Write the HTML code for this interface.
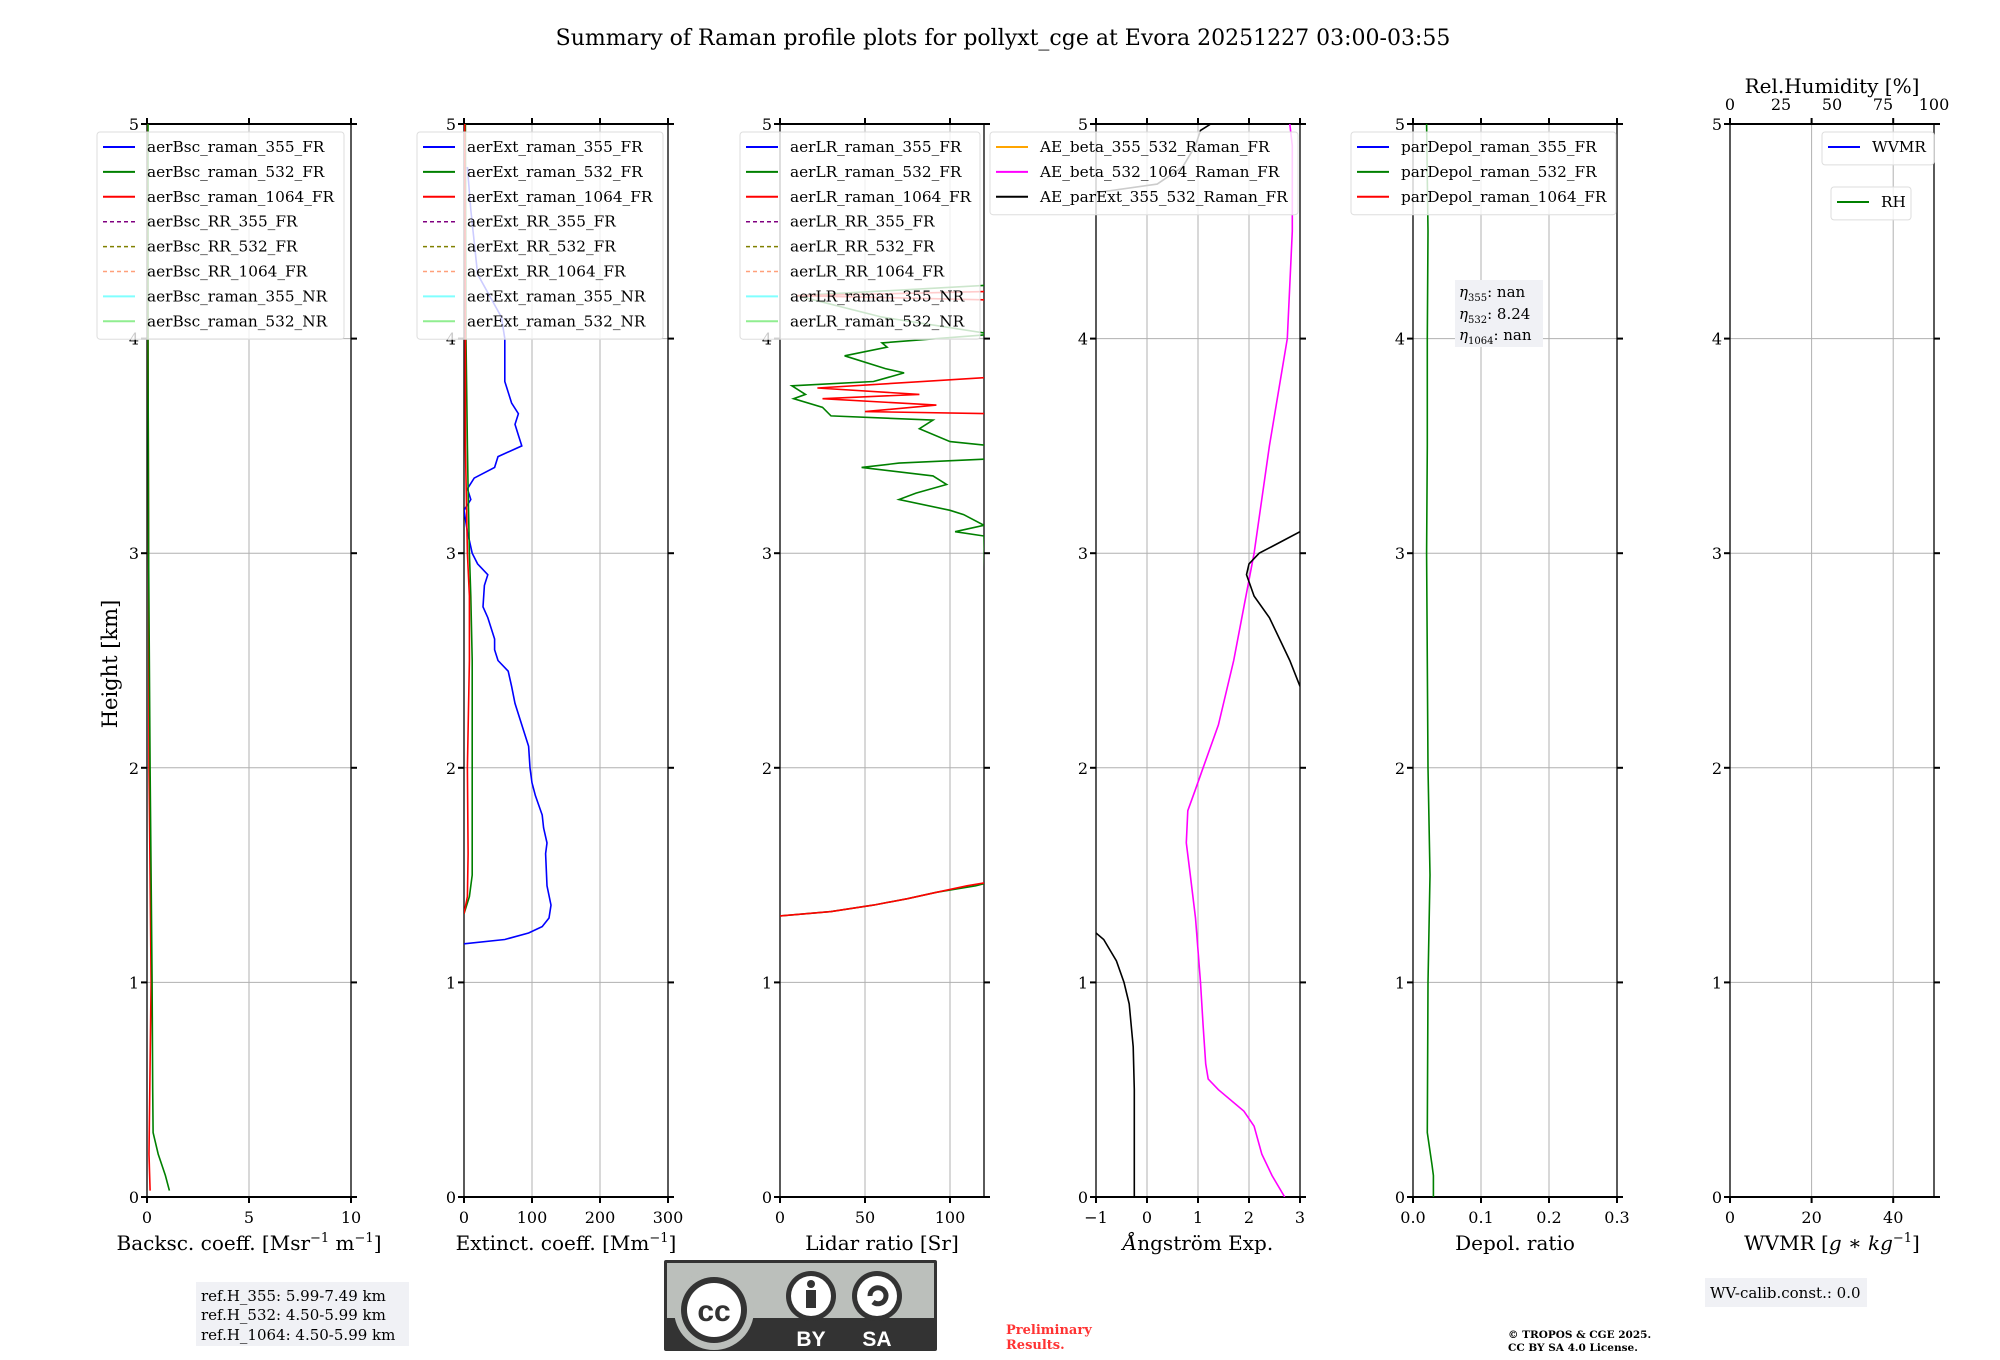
<!DOCTYPE html>
<html><head><meta charset="utf-8">
<style>
html,body{margin:0;padding:0;background:#fff;}
svg{display:block;font-family:"DejaVu Serif","Liberation Serif",serif;}
</style></head>
<body>
<svg id="fig" width="2000" height="1360" viewBox="0 0 2000 1360" xmlns="http://www.w3.org/2000/svg">
<text x="1003" y="45" font-size="22" text-anchor="middle">Summary of Raman profile plots for pollyxt_cge at Evora 20251227 03:00-03:55</text>
<text transform="translate(117,664) rotate(-90)" font-size="21" text-anchor="middle">Height [km]</text>
<g id="panels"></g>
<g>
<rect x="196" y="1282" width="213" height="64" fill="#f0f1f5"/>
<text x="201" y="1301" font-size="15">ref.H_355: 5.99-7.49 km</text>
<text x="201" y="1320" font-size="15">ref.H_532: 4.50-5.99 km</text>
<text x="201" y="1340" font-size="15">ref.H_1064: 4.50-5.99 km</text>
</g>
<g>
<rect x="1455" y="280" width="88" height="67" fill="#f0f1f5"/>
<text x="1459" y="297" font-size="15"><tspan font-style="italic">η</tspan><tspan font-size="10" dy="4">355</tspan><tspan dy="-4">: nan</tspan></text>
<text x="1459" y="319" font-size="15"><tspan font-style="italic">η</tspan><tspan font-size="10" dy="4">532</tspan><tspan dy="-4">: 8.24</tspan></text>
<text x="1459" y="340" font-size="15"><tspan font-style="italic">η</tspan><tspan font-size="10" dy="4">1064</tspan><tspan dy="-4">: nan</tspan></text>
</g>
<g>
<rect x="1705" y="1278" width="162" height="29" fill="#f0f1f5"/>
<text x="1710" y="1298" font-size="15">WV-calib.const.: 0.0</text>
</g>
<g>
<rect x="664" y="1260" width="273" height="91" fill="#333" rx="2"/>
<rect x="667" y="1263" width="267" height="55" fill="#bbbfbb"/>
<circle cx="714" cy="1310" r="40" fill="#bbbfbb"/>
<circle cx="714" cy="1310" r="33" fill="#333"/>
<circle cx="714" cy="1310" r="27" fill="#fff"/>
<text x="714" y="1321" font-family="Liberation Sans, sans-serif" font-weight="bold" font-size="30" text-anchor="middle" fill="#333">cc</text>
<circle cx="811" cy="1296" r="25" fill="#333"/><circle cx="811" cy="1296" r="20" fill="#fff"/>
<circle cx="811" cy="1284" r="4" fill="#333"/><rect x="806" y="1290" width="10" height="18" fill="#333"/>
<circle cx="877" cy="1296" r="25" fill="#333"/><circle cx="877" cy="1296" r="20" fill="#fff"/>
<path d="M870,1296 a8,8 0 1 1 3,6" fill="none" stroke="#333" stroke-width="5"/>
<text x="811" y="1346" font-family="Liberation Sans, sans-serif" font-weight="bold" font-size="21" text-anchor="middle" fill="#fff">BY</text>
<text x="877" y="1346" font-family="Liberation Sans, sans-serif" font-weight="bold" font-size="21" text-anchor="middle" fill="#fff">SA</text>
</g>
<text x="1006" y="1334" font-size="13" font-weight="bold" fill="#ff3333">Preliminary</text>
<text x="1006" y="1349" font-size="13" font-weight="bold" fill="#ff3333">Results.</text>
<text x="1508" y="1338" font-size="10.5" font-weight="bold">© TROPOS &amp; CGE 2025.</text>
<text x="1508" y="1351" font-size="10.5" font-weight="bold">CC BY SA 4.0 License.</text>
</svg>
<script>
// ---- data ----
const heightTicks = [0,1,2,3,4,5];
const bscTicks = [0,5,10];
const extTicks = [0,100,200,300];
const lrTicks = [0,50,100];
const aeTicks = [-1,0,1,2,3];
const depTicks = [0.0,0.1,0.2,0.3];
const wvTicks = [0,20,40];
const rhTicks = [0,25,50,75,100];

const bsc532H = [0.03,0.1,0.2,0.3,0.5,1,2,3,4,5];
const bsc532V = [1.1,0.9,0.55,0.3,0.28,0.25,0.15,0.08,0.05,0.05];
const bsc1064H = [0.03,0.2,1,1.5,2,3,4,5];
const bsc1064V = [0.15,0.1,0.2,0.15,0.1,0.08,0.05,0.03];

const ext355H = [1.18,1.2,1.23,1.26,1.3,1.36,1.45,1.6,1.65,1.72,1.78,1.87,1.93,2.0,2.1,2.2,2.3,2.38,2.45,2.5,2.55,2.6,2.7,2.75,2.85,2.9,2.95,3.0,3.1,3.2,3.25,3.3,3.35,3.4,3.45,3.5,3.55,3.6,3.65,3.7,3.8,3.9,4.0,4.1,4.3,4.6,4.8];
const ext355V = [0,60,95,115,125,128,122,120,122,117,115,105,100,97,95,85,75,70,65,50,45,45,35,28,30,35,20,12,5,0,10,5,15,45,50,85,80,75,80,70,60,60,60,55,20,10,5];
const ext532H = [1.32,1.4,1.5,1.7,2.0,2.5,2.8,3.0,3.3,3.5,4,5];
const ext532V = [0,8,12,12,12,12,10,8,6,5,3,2];
const ext1064H = [1.32,1.4,1.6,2,2.5,2.8,3,3.5,4,5];
const ext1064V = [0,5,6,5,8,8,5,2,2,1];

const lr532H = [1.31,1.33,1.36,1.39,1.42,1.45,1.47,3.08,3.1,3.13,3.18,3.2,3.25,3.28,3.32,3.36,3.4,3.42,3.44,3.5,3.52,3.58,3.62,3.64,3.68,3.72,3.74,3.78,3.8,3.84,3.86,3.92,3.96,3.98,4.02,4.1,4.2,4.25];
const lr532V = [0,30,55,75,92,115,125,120,103,120,108,100,70,80,98,90,48,70,125,125,100,82,90,30,25,8,15,7,55,73,62,38,63,60,125,60,10,125];
const lr1064H = [1.31,1.33,1.36,1.39,1.42,1.45,1.47,3.65,3.66,3.69,3.72,3.74,3.77,3.82,4.18,4.2,4.22];
const lr1064V = [0,30,55,75,92,110,125,125,50,92,25,82,22,125,125,10,125];

const aeBetaH = [0,0.1,0.2,0.33,0.4,0.5,0.55,0.62,0.8,1.0,1.3,1.5,1.65,1.8,1.9,2.0,2.2,2.5,3.0,3.5,4.0,4.5,4.9,5];
const aeBetaV = [2.7,2.45,2.25,2.1,1.9,1.4,1.2,1.15,1.1,1.05,0.95,0.85,0.77,0.8,0.95,1.1,1.4,1.7,2.1,2.4,2.75,2.85,2.85,2.8];
const aeExtLowH = [0,0.5,0.7,0.9,1.0,1.1,1.2,1.23];
const aeExtLowV = [-0.25,-0.25,-0.27,-0.35,-0.45,-0.6,-0.85,-1];
const aeExtHighH = [2.38,2.5,2.7,2.8,2.9,2.95,3.0,3.05,3.1];
const aeExtHighV = [3,2.8,2.4,2.1,1.95,2.0,2.2,2.6,3];
const aeExtTopH = [4.68,4.72,4.8,4.9,4.97,5];
const aeExtTopV = [-1,0.2,0.7,0.95,1.05,1.25];

const dep532H = [0,0.1,0.15,0.3,1,1.5,2,2.5,3,3.5,4,4.5,5];
const dep532V = [0.03,0.03,0.028,0.021,0.022,0.025,0.022,0.021,0.02,0.021,0.021,0.022,0.02];

// ---- layout ----
const NS = "http://www.w3.org/2000/svg";
const root = document.getElementById('panels');
const TOP = 124, BOT = 1197, W = 204;
function yS(h){ return BOT - (h/5)*(BOT-TOP); }
function mk(tag, attrs, parent){
  const e = document.createElementNS(NS, tag);
  for (const k in attrs) e.setAttribute(k, attrs[k]);
  (parent||root).appendChild(e);
  return e;
}
function fmt(v, dec){ const s = dec ? v.toFixed(dec) : String(v); return s.replace('-', '\u2212'); }

function panel(x0, xmin, xmax, ticks, dec, xlabel, name){
  const g = mk('g', {});
  
  
  const xS = v => x0 + (v - xmin)/(xmax - xmin)*W;
  for (const t of ticks){ const X = xS(t);
    const gl = mk('line', {x1:X,x2:X,y1:TOP,y2:BOT,stroke:'#b0b0b0','stroke-width':1}, g);
    
    
    mk('line', {x1:X,x2:X,y1:BOT,y2:BOT+6,stroke:'#000','stroke-width':2}, g);
    mk('line', {x1:X,x2:X,y1:TOP,y2:TOP-6,stroke:'#000','stroke-width':2}, g);
    const tl = mk('text', {x:X,y:BOT+26,'font-size':16,'text-anchor':'middle'}, g);
    tl.textContent = fmt(t, dec);
    
    
  }
  for (const h of heightTicks){ const Y = yS(h);
    const gl = mk('line', {x1:x0,x2:x0+W,y1:Y,y2:Y,stroke:'#b0b0b0','stroke-width':1}, g);
    
    
    mk('line', {x1:x0-6,x2:x0,y1:Y,y2:Y,stroke:'#000','stroke-width':2}, g);
    mk('line', {x1:x0+W,x2:x0+W+6,y1:Y,y2:Y,stroke:'#000','stroke-width':2}, g);
    const tl = mk('text', {x:x0-8,y:Y+6,'font-size':16,'text-anchor':'end'}, g);
    tl.textContent = h;
    
    
  }
  const fr = mk('rect', {x:x0,y:TOP,width:W,height:BOT-TOP,fill:'none',stroke:'#000','stroke-width':1.3}, g);
  
  
  mk('line', {x1:x0,x2:x0+W,y1:BOT,y2:BOT,stroke:'#000','stroke-width':2}, g);
  mk('line', {x1:x0,x2:x0+W,y1:TOP,y2:TOP,stroke:'#000','stroke-width':2}, g);
  const xl = mk('text', {x:x0+W/2,y:BOT+53,'font-size':20,'text-anchor':'middle'}, g);
  xl.innerHTML = xlabel;
  
  
  return {g, xS, x0};
}
function series(p, H, V, color, name){
  const clip = 'c'+Math.round(p.x0);
  if (!document.getElementById(clip)){
    const cp = mk('clipPath', {id:clip}, p.g);
    mk('rect', {x:p.x0,y:TOP,width:W,height:BOT-TOP}, cp);
  }
  let d = '';
  for (let i=0;i<H.length;i++){ d += (i?'L':'M') + p.xS(V[i]).toFixed(1) + ',' + yS(H[i]).toFixed(1); }
  const pl = mk('path', {d:d,fill:'none',stroke:color,'stroke-width':1.6,'clip-path':'url(#'+clip+')'}, p.g);
  
  
}
function legend(x, y, w, entries, name, rowH){
  rowH = rowH || 24.9;
  const g = mk('g', {});
  
  
  mk('rect', {x:x,y:y,width:w,height:rowH*entries.length+8,fill:'#fff','fill-opacity':0.8,stroke:'#ddd',rx:3}, g);
  entries.forEach((e,i)=>{
    const Y = y + 15 + i*rowH;
    mk('line', {x1:x+6,x2:x+38,y1:Y,y2:Y,stroke:e[1],'stroke-width':e[2]?1.5:2,'stroke-dasharray':e[2]?'4,3':'none'}, g);
    const t = mk('text', {x:x+50,y:Y+5,'font-size':15.3}, g);
    t.textContent = e[0];
    
    
  });
}

const p1 = panel(147, 0, 10, bscTicks, 0, 'Backsc. coeff. [Msr<tspan font-size="13" dy="-8">−1</tspan><tspan dy="8"> m</tspan><tspan font-size="13" dy="-8">−1</tspan><tspan dy="8">]</tspan>', 'backscatter-panel');
series(p1, bsc1064H, bsc1064V, '#ff0000', 'bsc-1064-line');
series(p1, bsc532H, bsc532V, '#008000', 'bsc-532-line');
const p2 = panel(464, 0, 300, extTicks, 0, 'Extinct. coeff. [Mm<tspan font-size="13" dy="-8">−1</tspan><tspan dy="8">]</tspan>', 'extinction-panel');
series(p2, ext355H, ext355V, '#0000ff', 'ext-355-line');
series(p2, ext532H, ext532V, '#008000', 'ext-532-line');
series(p2, ext1064H, ext1064V, '#ff0000', 'ext-1064-line');
const p3 = panel(780, 0, 120, lrTicks, 0, 'Lidar ratio [Sr]', 'lidar-ratio-panel');
series(p3, lr532H, lr532V, '#008000', 'lr-532-line');
series(p3, lr1064H, lr1064V, '#ff0000', 'lr-1064-line');
const p4 = panel(1096, -1, 3, aeTicks, 0, '<tspan font-style="italic">Å</tspan>ngström Exp.', 'angstrom-panel');
series(p4, aeBetaH, aeBetaV, '#ff00ff', 'ae-beta-532-1064-line');
series(p4, aeExtLowH, aeExtLowV, '#000', 'ae-parext-low-line');
series(p4, aeExtHighH, aeExtHighV, '#000', 'ae-parext-high-line');
series(p4, aeExtTopH, aeExtTopV, '#000', 'ae-parext-top-line');
const p5 = panel(1413, 0, 0.3, depTicks, 1, 'Depol. ratio', 'depol-panel');
series(p5, dep532H, dep532V, '#008000', 'depol-532-line');
const p6 = panel(1730, 0, 50, wvTicks, 0, 'WVMR [<tspan font-style="italic">g</tspan> ∗ <tspan font-style="italic">kg</tspan><tspan font-size="13" dy="-8">−1</tspan><tspan dy="8">]</tspan>', 'wvmr-panel');
(function(){
  const g = mk('g', {});
  
  
  for (const t of rhTicks){ const X = 1730 + t/100*W;
    const tl = mk('text', {x:X,y:110,'font-size':16,'text-anchor':'middle'}, g);
    tl.textContent = t;
    
    
  }
  const lb = mk('text', {x:1832,y:93,'font-size':20,'text-anchor':'middle'}, g);
  lb.textContent = 'Rel.Humidity [%]';
  
  
})();

const lg1 = [['aerBsc_raman_355_FR','#0000ff'],['aerBsc_raman_532_FR','#008000'],['aerBsc_raman_1064_FR','#ff0000'],['aerBsc_RR_355_FR','#800080',1],['aerBsc_RR_532_FR','#808000',1],['aerBsc_RR_1064_FR','#ffa07a',1],['aerBsc_raman_355_NR','#80ffff'],['aerBsc_raman_532_NR','#90ee90']];
legend(97, 132, 247, lg1, 'backscatter-legend');
legend(417, 132, 246, lg1.map(e=>[e[0].replace('aerBsc','aerExt'),e[1],e[2]]), 'extinction-legend');
legend(740, 132, 240, lg1.map(e=>[e[0].replace('aerBsc','aerLR'),e[1],e[2]]), 'lidar-ratio-legend');
legend(990, 132, 308, [['AE_beta_355_532_Raman_FR','#ffa500'],['AE_beta_532_1064_Raman_FR','#ff00ff'],['AE_parExt_355_532_Raman_FR','#000']], 'angstrom-legend');
legend(1351, 132, 265, [['parDepol_raman_355_FR','#0000ff'],['parDepol_raman_532_FR','#008000'],['parDepol_raman_1064_FR','#ff0000']], 'depol-legend');
legend(1822, 132, 112, [['WVMR','#0000ff']], 'wvmr-legend');
legend(1831, 187, 80, [['RH','#008000']], 'rh-legend');
</script>
</body></html>
